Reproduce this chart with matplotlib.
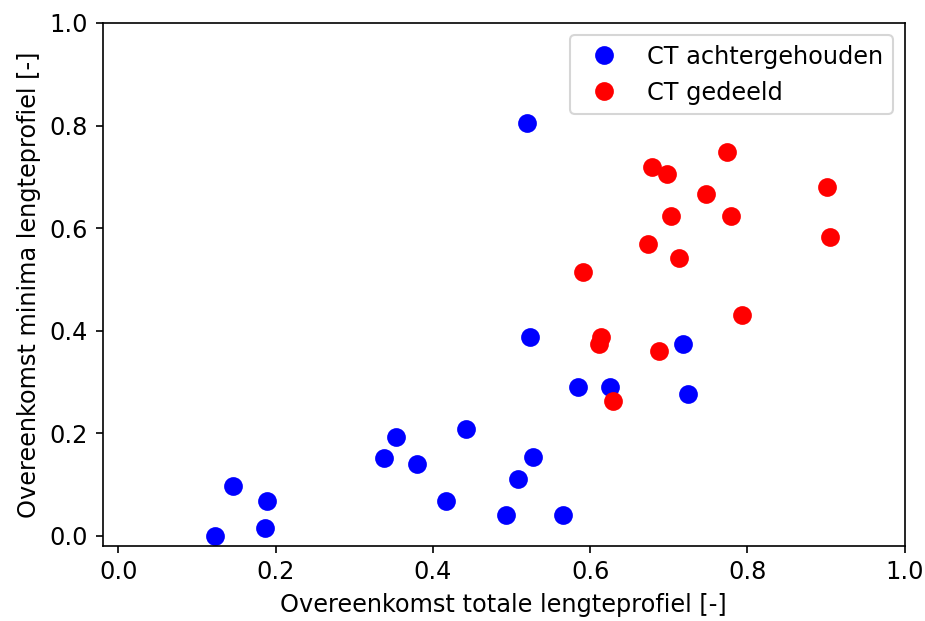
import matplotlib
matplotlib.use('Agg')
import matplotlib.pyplot as plt

# CT achtergehouden
x_achter = [0.520, 0.523, 0.585, 0.625, 0.718, 0.724, 0.353, 0.338, 0.380, 0.442,
            0.527, 0.508, 0.417, 0.493, 0.565, 0.146, 0.189, 0.186, 0.123]
y_achter = [0.805, 0.388, 0.290, 0.290, 0.374, 0.277, 0.193, 0.152, 0.140, 0.207,
            0.154, 0.111, 0.068, 0.041, 0.041, 0.097, 0.068, 0.014, 0.000]

# CT gedeeld
x_gedeeld = [0.774, 0.679, 0.698, 0.747, 0.703, 0.779, 0.901, 0.905, 0.673, 0.713,
             0.591, 0.614, 0.611, 0.687, 0.793, 0.629]
y_gedeeld = [0.749, 0.719, 0.706, 0.667, 0.624, 0.624, 0.680, 0.583, 0.569, 0.542,
             0.515, 0.388, 0.374, 0.361, 0.431, 0.263]

plt.rcParams['font.size'] = 11.5

fig, ax = plt.subplots(figsize=(9.25 / 1.5, 6.21 / 1.5), dpi=150)
ax.plot(x_achter, y_achter, 'o', color='b', markersize=8, label='CT achtergehouden')
ax.plot(x_gedeeld, y_gedeeld, 'o', color='r', markersize=8, label='CT gedeeld')

ax.set_xlim(-0.02, 1.0)
ax.set_ylim(-0.02, 1.0)
ax.set_xlabel('Overeenkomst totale lengteprofiel [-]')
ax.set_ylabel('Overeenkomst minima lengteprofiel [-]')
ax.legend(loc='upper right')

plt.subplots_adjust(left=0.111, right=0.978, top=0.963, bottom=0.121)
plt.savefig('out.png', dpi=150)
